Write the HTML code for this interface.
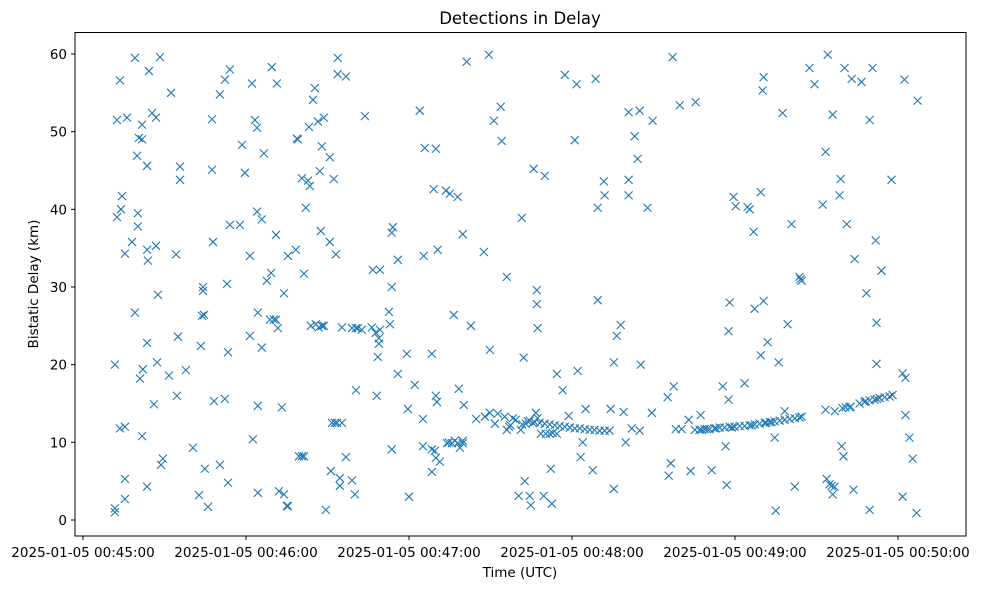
<!DOCTYPE html>
<html><head><meta charset="utf-8"><style>
html,body{margin:0;padding:0;background:#fff;}
svg{display:block;font-family:"DejaVu Sans","Liberation Sans",sans-serif;}
</style></head><body>
<svg id="chart" width="981" height="590" viewBox="0 0 981 590" xmlns="http://www.w3.org/2000/svg">
<rect x="0" y="0" width="981" height="590" fill="#fff"/>
<text x="520" y="24" font-size="16.5" text-anchor="middle">Detections in Delay</text>
<text x="520" y="577" font-size="13.5" text-anchor="middle">Time (UTC)</text>
<text x="38" y="284" font-size="13.5" text-anchor="middle" transform="rotate(-90 38 284)">Bistatic Delay (km)</text>
<g id="marks"></g>
<g id="axes"></g>
<rect x="75" y="32.5" width="891" height="503.5" fill="none" stroke="#000" stroke-width="1"/>
</svg>
<script>
const xTickValues = [-9.1, 52.71, 114.52, 176.33, 238.14, 299.96];
const xTickLabels = ["2025-01-05 00:45:00","2025-01-05 00:46:00","2025-01-05 00:47:00","2025-01-05 00:48:00","2025-01-05 00:49:00","2025-01-05 00:50:00"];
const yTickValues = [0,10,20,30,40,50,60];
const yTickLabels = ["0","10","20","30","40","50","60"];
const detections = [
[3.0,20],[3.0,1.5],[3.0,1.0],[3.8,51.5],[3.8,39],[4.9,56.6],[5.3,40],[5.7,41.7],[4.9,11.8],[6.8,12],[6.8,34.3],[6.8,5.3],[6.8,2.7],[7.6,51.8],[9.5,35.8],[10.6,59.5],[10.6,26.7],[11.4,46.9],[11.7,37.8],[11.7,39.5],
[12.1,49.2],[12.5,18.2],[13.3,49],[13.3,10.8],[13.6,19.4],[13.3,50.9],[15.2,34.8],[15.2,4.3],[15.2,45.6],[15.2,22.8],[15.5,33.4],[15.9,57.8],[17.1,52.4],[17.8,14.9],[18.6,51.8],[18.6,35.3],[19.0,20.3],[19.3,29],[20.1,59.6],[20.5,7.1],
[21.2,7.9],[23.5,18.6],[24.3,55],[26.2,34.2],[26.5,16],[26.9,23.6],[27.7,45.5],[27.7,43.8],[29.9,19.3],[32.6,9.3],[34.9,3.2],[35.6,22.4],[36.0,26.3],[36.4,29.5],[36.4,30],[36.8,26.4],[37.1,6.6],[38.3,1.7],[39.8,51.6],[39.8,45.1],
[40.2,35.8],[40.6,15.3],[42.8,7.1],[42.8,54.8],[44.7,56.7],[44.7,15.6],[45.5,30.4],[45.9,21.6],[45.9,4.8],[46.6,58],[46.6,38],[50.4,38],[51.2,48.3],[52.3,44.7],[54.2,23.7],[54.2,34],[55.0,56.2],[55.3,10.4],[56.1,51.5],[56.9,50.5],
[56.9,39.7],[57.2,14.7],[57.2,3.5],[57.2,26.7],[58.7,22.2],[58.7,38.7],[59.5,47.2],[60.6,30.8],[61.8,25.8],[62.5,58.3],[63.3,25.8],[64.1,25.8],[62.2,31.8],[64.1,36.7],[64.4,56.2],[64.8,24.7],[65.2,3.7],[66.3,14.5],[67.1,3.3],[67.1,29.2],
[68.2,1.8],[68.6,34],[68.6,1.8],[71.6,34.8],[72.0,49.1],[72.4,49.0],[72.8,8.2],[73.9,8.2],[74.7,8.2],[73.9,44],[74.7,31.7],[75.4,40.2],[76.2,43.7],[76.6,50.6],[76.9,43],[77.3,25],[78.1,54.1],[78.8,55.6],[79.2,25.2],[80.0,51.3],
[80.3,24.8],[80.7,44.9],[81.1,37.2],[81.5,25],[82.2,25],[81.5,48.1],[82.2,51.8],[83.0,1.3],[84.5,46.7],[84.5,35.8],[84.9,6.3],[85.3,12.5],[86.0,43.9],[86.4,12.5],[86.8,34.2],[87.2,12.5],[87.5,59.5],[87.5,57.4],[88.3,4.4],[88.3,5.4],
[89.1,12.5],[89.1,24.8],[90.6,57.1],[90.6,8.1],[92.9,5.1],[94.0,3.3],[94.4,16.7],[92.9,24.7],[94.4,24.7],[95.1,24.7],[96.6,24.5],[97.8,52],[100.4,24.8],[100.8,32.2],[101.9,24.1],[102.3,16],[102.7,21],[103.1,23.4],[103.1,22.7],[103.5,32.2],
[103.5,24.5],[106.9,26.8],[107.3,25.2],[108.0,9.1],[108.0,30],[108.0,37],[108.4,37.7],[110.3,33.5],[110.3,18.8],[113.7,21.4],[114.1,14.3],[114.5,3],[116.7,17.4],[118.6,52.7],[119.8,13],[119.8,9.5],[120.1,34],[120.5,47.9],[123.2,21.4],[123.2,6.2],
[123.2,9.1],[123.9,42.6],[124.3,8.9],[124.7,47.8],[124.7,16],[124.7,8],[125.1,15.2],[125.4,34.8],[126.2,7.5],[128.5,42.4],[128.9,9.9],[129.6,10],[130.0,42],[130.8,9.9],[131.5,26.4],[131.9,10.2],[133.0,9.9],[133.0,41.6],[133.4,16.9],[133.8,9.3],
[134.9,9.9],[134.9,10.2],[134.9,36.8],[135.3,14.8],[136.4,59],[138.0,25],[142.9,34.5],[143.3,13.3],[144.8,59.9],[145.2,13.8],[145.2,21.9],[146.7,51.4],[147.1,12.4],[148.2,13.7],[149.3,53.2],[149.7,48.8],[150.8,13.3],[151.6,11.6],[151.6,31.3],[153.9,13.1],
[156.1,3.1],[156.9,11.6],[157.3,38.9],[158.0,20.9],[158.4,5],[158.8,12.4],[159.6,12.7],[160.3,3.1],[160.7,1.9],[161.5,12.5],[161.8,45.2],[162.6,13.8],[163.0,29.6],[163.0,27.8],[163.3,24.7],[163.3,13.1],[164.5,11.1],[166.0,44.3],[165.6,3.1],[166.4,11.1],
[167.9,11.1],[168.7,2.1],[168.3,6.6],[169.0,11.2],[170.6,18.8],[170.6,11.1],[172.8,16.7],[173.6,57.3],[175.1,13.4],[177.4,48.9],[178.1,56.1],[178.5,19.2],[179.6,8.1],[180.4,10],[181.5,14.3],[184.2,6.4],[185.3,56.8],[186.1,40.2],[186.1,28.3],[188.4,43.6],
[188.7,41.8],[191.0,14.3],[192.2,4],[192.2,20.3],[193.3,23.7],[194.8,25.1],[195.9,13.9],[196.7,10],[197.8,52.5],[197.8,41.8],[197.8,43.8],[200.1,49.4],[201.2,46.5],[202.0,11.5],[202.0,52.7],[202.4,20],[205.0,40.2],[206.9,51.4],[206.6,13.8],[212.6,15.8],
[160.3,12.8],[162.2,12.6],[164.1,12.5],[166.0,12.4],[167.9,12.3],[169.8,12.2],[171.7,12.1],[173.6,12.0],[175.5,11.9],[177.4,11.8],[179.3,11.8],[181.2,11.7],[183.1,11.6],[184.9,11.6],[186.8,11.5],[188.7,11.5],[190.6,11.5],[155.0,12.9],[152.5,12.0],[199.0,11.8],
[213.0,5.7],[213.8,7.3],[214.5,59.6],[214.9,17.2],[215.7,11.7],[217.2,53.4],[217.9,11.7],[221.3,6.3],[220.6,12.9],[223.2,53.8],[225.1,13.5],[225.5,11.6],[229.3,6.4],[233.5,17.2],[234.6,9.5],[235.0,4.5],[235.7,24.3],[235.7,15.5],[236.1,28],[237.6,41.6],
[238.4,40.4],[241.8,17.6],[242.9,40.3],[243.7,40.0],[245.2,37.1],[245.6,27.2],[247.9,21.2],[247.9,42.2],[248.6,55.3],[249.0,57],[249.0,28.2],[250.5,22.9],[253.2,10.6],[253.6,1.2],[254.7,20.3],[256.2,52.4],[257.0,14.0],[258.1,25.2],[259.6,38.1],[260.8,4.3],
[262.6,31.3],[263.4,30.8],[263.0,31.0],[263.4,13.3],[266.4,58.2],[268.3,56.1],[271.4,40.6],[272.5,47.4],[272.5,14.2],[272.9,5.3],[274.0,4.6],[274.8,4.4],[275.2,52.2],[275.2,3.3],[275.9,4.3],[277.8,41.8],[278.2,43.9],[278.6,9.5],[278.9,14.4],[279.3,8.2],
[279.7,58.2],[280.1,14.5],[280.5,38.1],[281.6,14.5],[282.4,56.8],[283.1,3.9],[283.5,33.6],[286.1,56.4],[287.7,15.3],[288.0,29.2],[289.2,51.5],[289.2,1.3],[290.3,58.2],[291.5,36],[291.8,25.4],[291.8,20.1],[293.7,32.1],[297.5,43.8],[301.7,3],[301.7,18.9],
[302.4,56.7],[302.8,13.5],[302.8,18.3],[304.3,10.6],[305.5,7.9],[307.0,0.9],[307.4,54],[273.3,59.9],[292.0,15.6],[293.0,15.7],
[222.9,11.6],[224.7,11.6],[226.6,11.7],[228.5,11.7],[230.4,11.8],[232.3,11.9],[234.2,11.9],[236.1,12.0],[238.0,12.0],[239.9,12.1],[241.8,12.1],[243.7,12.2],[245.6,12.3],[247.5,12.4],[249.4,12.5],[251.3,12.6],[253.2,12.7],[255.1,12.8],[257.0,12.9],[258.9,13.0],
[260.8,13.1],[262.6,13.2],[285.4,15.0],[287.3,15.2],[289.2,15.4],[291.1,15.5],[294.9,15.8],[296.8,15.9],[297.9,16.1],[276.0,14.0],[282.0,14.6],[237.0,11.9],[244.5,12.2],[250.0,12.5],[252.0,12.6],[231.0,11.8],[227.5,11.7],[140.0,13.0],[153.0,12.2],[157.5,12.3]
];

function xScale(t){ return 107 + t * 2.637; }
function yScale(d){ return 520 - d * 7.767; }
const NS = "http://www.w3.org/2000/svg";
const marks = document.getElementById('marks');
const axes = document.getElementById('axes');
const A = 4;
detections.forEach(function(p){
  const cx = xScale(p[0]), cy = yScale(p[1]);
  const path = document.createElementNS(NS, 'path');
  path.setAttribute('d', 'M'+(cx-A)+' '+(cy-A)+'L'+(cx+A)+' '+(cy+A)+'M'+(cx-A)+' '+(cy+A)+'L'+(cx+A)+' '+(cy-A));
  path.setAttribute('stroke', '#1f77b4');
  path.setAttribute('stroke-width', '1.1');
  path.setAttribute('fill', 'none');
  
  
  marks.appendChild(path);
});
xTickValues.forEach(function(v, i){
  const x = xScale(v);
  const l = document.createElementNS(NS, 'line');
  l.setAttribute('x1', x); l.setAttribute('x2', x); l.setAttribute('y1', 536); l.setAttribute('y2', 540);
  l.setAttribute('stroke', '#000');
  
  
  axes.appendChild(l);
  const t = document.createElementNS(NS, 'text');
  t.setAttribute('x', x); t.setAttribute('y', 557);
  t.setAttribute('font-size', '13.5'); t.setAttribute('text-anchor', 'middle');
  t.textContent = xTickLabels[i];
  
  
  axes.appendChild(t);
});
yTickValues.forEach(function(v, i){
  const y = yScale(v);
  const l = document.createElementNS(NS, 'line');
  l.setAttribute('x1', 71); l.setAttribute('x2', 75); l.setAttribute('y1', y); l.setAttribute('y2', y);
  l.setAttribute('stroke', '#000');
  
  
  axes.appendChild(l);
  const t = document.createElementNS(NS, 'text');
  t.setAttribute('x', 67); t.setAttribute('y', y + 5);
  t.setAttribute('font-size', '13.5'); t.setAttribute('text-anchor', 'end');
  t.textContent = yTickLabels[i];
  
  
  axes.appendChild(t);
});
</script>
</body></html>
